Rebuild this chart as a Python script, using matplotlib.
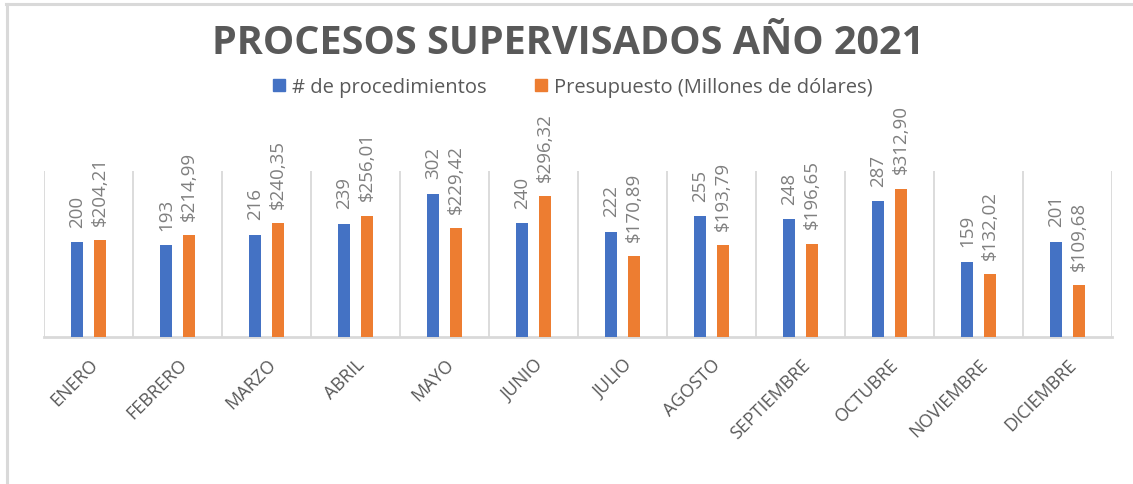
import matplotlib
matplotlib.use("Agg")
import matplotlib.pyplot as plt
from matplotlib.patches import Patch
from matplotlib.lines import Line2D
import numpy as np

months = ["ENERO", "FEBRERO", "MARZO", "ABRIL", "MAYO", "JUNIO", "JULIO",
          "AGOSTO", "SEPTIEMBRE", "OCTUBRE", "NOVIEMBRE", "DICIEMBRE"]
procedimientos = [200, 193, 216, 239, 302, 240, 222, 255, 248, 287, 159, 201]
presupuesto = [204.21, 214.99, 240.35, 256.01, 229.42, 296.32, 170.89,
               193.79, 196.65, 312.90, 132.02, 109.68]
series_names = ["# de procedimientos", "Presupuesto (Millones de dólares)"]
title = "PROCESOS SUPERVISADOS AÑO 2021"

BLUE = "#4472C4"
ORANGE = "#ED7D31"
GRID = "#D9D9D9"
DARK = "#595959"
LABEL = "#7F7F7F"

plt.rcParams['font.family'] = ['Open Sans', 'DejaVu Sans']

W, H = 1133, 485
fig = plt.figure(figsize=(W / 100, H / 100), dpi=100)
ax = fig.add_axes([44 / W, 1 - 338 / H, (1112 - 44) / W, (338 - 172) / H])

x = np.arange(len(months))
bw = 0.135
off = 0.129
b1 = ax.bar(x - off, procedimientos, bw, color=BLUE, zorder=3)
b2 = ax.bar(x + off, presupuesto, bw, color=ORANGE, zorder=3)

for rect, v in zip(b1, procedimientos):
    ax.annotate(f"{v}", (rect.get_x() + rect.get_width() / 2, rect.get_height()),
                xytext=(0, 11), textcoords="offset points", rotation=90,
                ha="center", va="bottom", fontsize=13.5, color=LABEL)
for rect, v in zip(b2, presupuesto):
    s = "$" + f"{v:.2f}".replace(".", ",")
    ax.annotate(s, (rect.get_x() + rect.get_width() / 2, rect.get_height()),
                xytext=(0, 11), textcoords="offset points", rotation=90,
                ha="center", va="bottom", fontsize=13.5, color=LABEL)

ax.set_xlim(-0.5, len(months) - 0.5)
ax.set_ylim(0, 350)
for b in np.arange(-0.5, len(months), 1.0):
    ax.axvline(b, color=GRID, lw=1.3, zorder=1)
ax.axhline(0, color=GRID, lw=2, zorder=2, clip_on=False)

for s in ax.spines.values():
    s.set_visible(False)
ax.set_yticks([])
ax.set_xticks(x)
ax.set_xticklabels(months, rotation=45, ha="right", rotation_mode="anchor",
                   fontsize=13, color=DARK)
ax.tick_params(axis="x", length=0, pad=13)

fig.text(0.501, 1 - 43 / H, title, ha="center", va="center",
         fontsize=28.5, fontweight="bold", color=DARK)

handles = [Patch(color=BLUE), Patch(color=ORANGE)]
fig.legend(handles, series_names, loc="center", bbox_to_anchor=(573 / W, 1 - 88 / H),
           ncol=2, frameon=False, fontsize=14.5, labelcolor=DARK,
           handlelength=0.6, handleheight=0.6, handletextpad=0.35,
           columnspacing=2.4)

fig.add_artist(Line2D([7 / W, 7 / W], [0, 1 - 5 / H], color=GRID, lw=2.2,
                      transform=fig.transFigure))
fig.add_artist(Line2D([6 / W, 1], [1 - 5 / H, 1 - 5 / H], color=GRID, lw=2.2,
                      transform=fig.transFigure))

fig.savefig("out.png", dpi=100)
